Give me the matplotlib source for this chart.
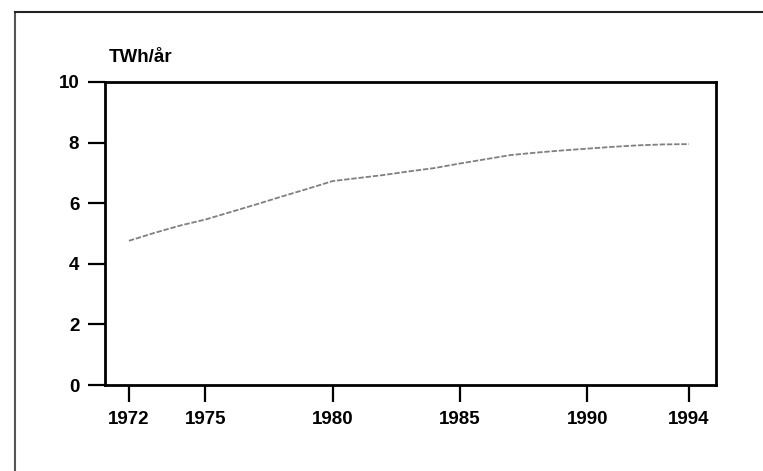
import matplotlib
matplotlib.use("Agg")
import matplotlib.pyplot as plt
from matplotlib.lines import Line2D

# Annual electricity use, TWh per year
years = [1972, 1973, 1974, 1975, 1976, 1977, 1978, 1979, 1980, 1981, 1982,
         1983, 1984, 1985, 1986, 1987, 1988, 1989, 1990, 1991, 1992, 1993, 1994]
twh = [4.76, 5.02, 5.26, 5.46, 5.71, 5.96, 6.22, 6.47, 6.73, 6.83, 6.93,
       7.05, 7.16, 7.31, 7.45, 7.59, 7.67, 7.74, 7.80, 7.86, 7.91, 7.94, 7.95]

x_ticks = [1972, 1975, 1980, 1985, 1990, 1994]
y_ticks = [0, 2, 4, 6, 8, 10]
unit_label = "TWh/år"

W, H = 763, 471
fig = plt.figure(figsize=(W / 100, H / 100), dpi=100)
fig.patch.set_facecolor("white")

font = dict(family="Liberation Sans", weight="bold", size=13.5)

ax = fig.add_axes([105 / W, 1 - 385 / H, (716 - 105) / W, (385 - 82) / H])
ax.plot(years, twh, color="#808080", lw=1.3, linestyle=(0, (3, 1)))

ax.set_xlim(1971.06, 1995.06)
ax.set_ylim(0, 10)
ax.set_xticks(x_ticks)
ax.set_yticks(y_ticks)
ax.set_xticklabels([str(v) for v in x_ticks], fontdict=font)
ax.set_yticklabels([str(v) for v in y_ticks], fontdict=font)
ax.tick_params(axis="both", direction="out", length=12.5, width=1.6, color="black")
ax.tick_params(axis="x", pad=6)
ax.tick_params(axis="y", pad=6)
for sp in ax.spines.values():
    sp.set_linewidth(2)
    sp.set_color("black")

fig.text(109 / W, 1 - 57 / H, unit_label, ha="left", va="center", **font)

# Page frame along the left and top edges
fig.add_artist(Line2D([15 / W, 15 / W], [0, 1 - 12 / H], transform=fig.transFigure,
                      color="#555555", lw=1.5))
fig.add_artist(Line2D([15 / W, 1], [1 - 12 / H, 1 - 12 / H], transform=fig.transFigure,
                      color="#222222", lw=1.5))

fig.savefig("out.png", dpi=100)
